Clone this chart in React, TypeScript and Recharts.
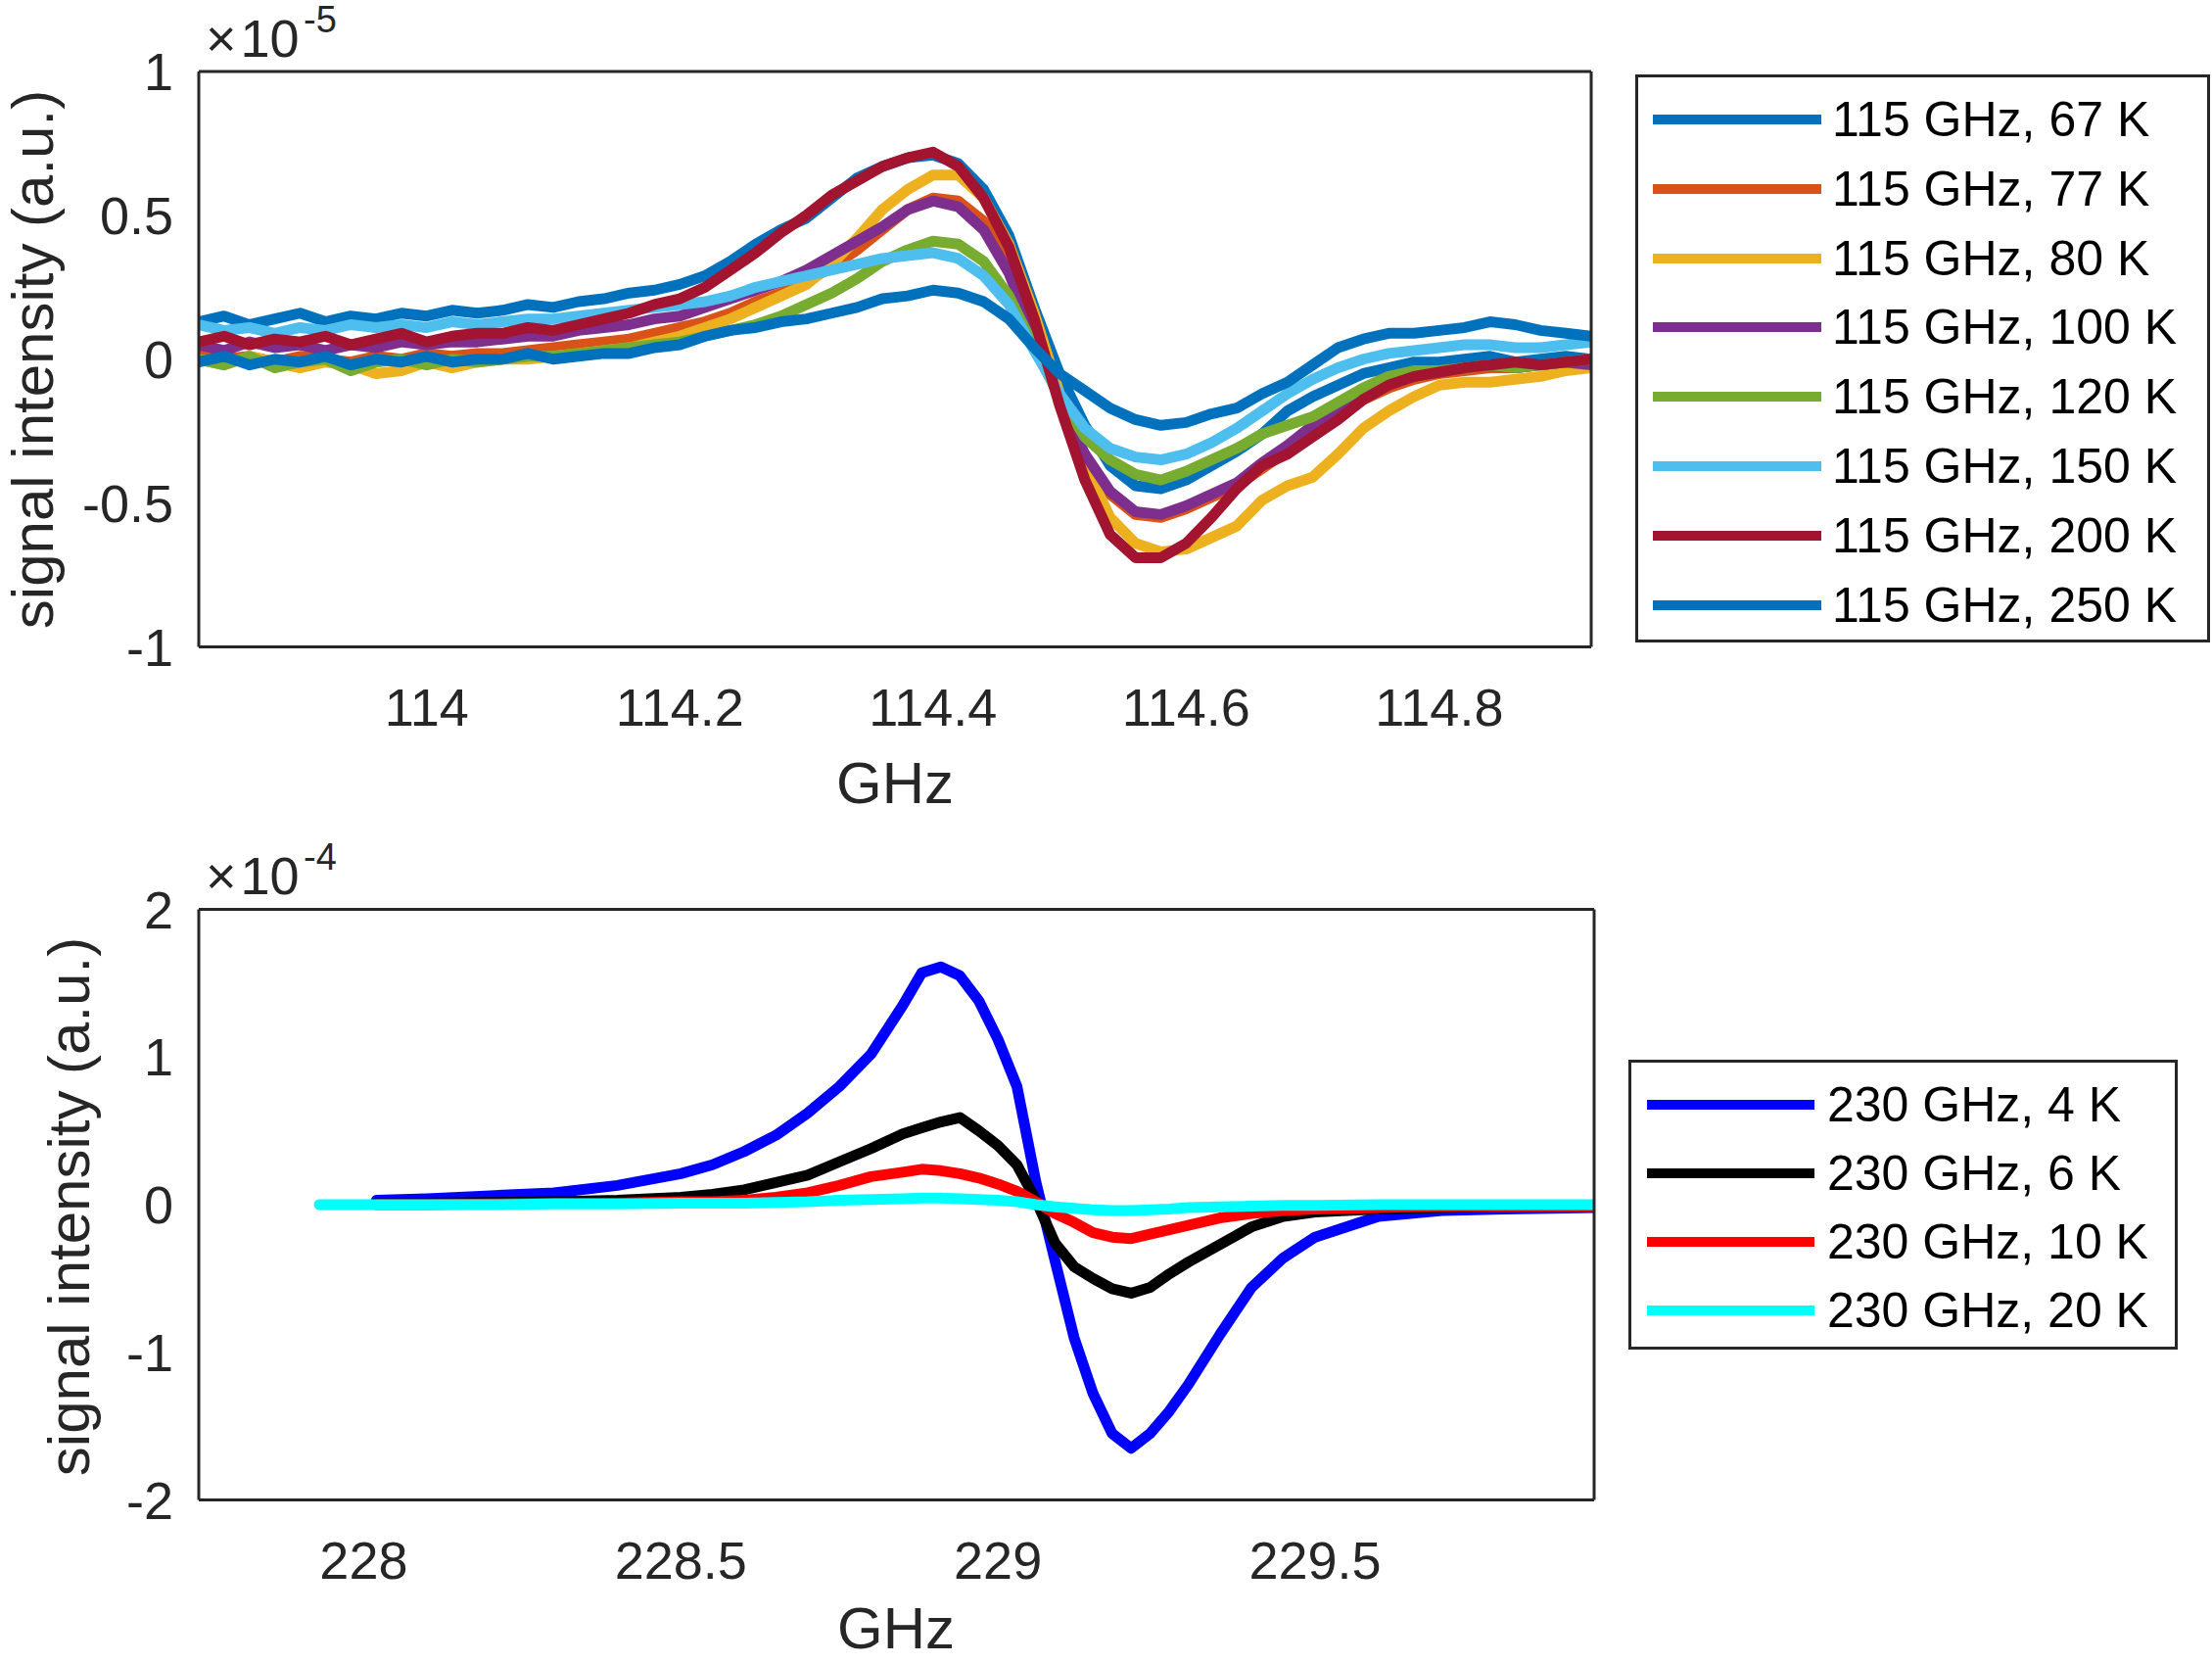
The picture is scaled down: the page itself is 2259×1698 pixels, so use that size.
import { LineChart, Line, XAxis, YAxis } from 'recharts';

const FONT = '"Liberation Sans", Arial, Helvetica, sans-serif';
const AX = '#262626';

// ---- 115 GHz panel (values in units of 1e-5) ----
const freq115 = [
  113.82, 113.84, 113.86, 113.88, 113.9, 113.92, 113.94, 113.96, 113.98, 114, 114.02, 114.04,
  114.06, 114.08, 114.1, 114.12, 114.14, 114.16, 114.18, 114.2,
  114.22, 114.24, 114.26, 114.28, 114.3, 114.32, 114.34, 114.36, 114.38, 114.4,
  114.42, 114.44, 114.46, 114.48, 114.5, 114.52, 114.54, 114.56, 114.58, 114.6,
  114.62, 114.64, 114.66, 114.68, 114.7, 114.72, 114.74, 114.76, 114.78, 114.8,
  114.82, 114.84, 114.86, 114.88, 114.9, 114.92,
];
const k67 = [
  0.13, 0.15, 0.12, 0.14, 0.16, 0.13, 0.15, 0.14, 0.16, 0.15, 0.17, 0.16,
  0.17, 0.19, 0.18, 0.2, 0.21, 0.23, 0.24, 0.26,
  0.29, 0.34, 0.4, 0.45, 0.49, 0.56, 0.63, 0.67, 0.7, 0.71,
  0.68, 0.59, 0.43, 0.18, -0.05, -0.23, -0.37, -0.44, -0.45, -0.42,
  -0.37, -0.32, -0.26, -0.18, -0.13, -0.09, -0.05, -0.03, -0.01, -0.01,
  0.0, 0.01, -0.01, 0.0, 0.01, 0.0,
];
const k77 = [
  0.02, 0.0, 0.01, -0.01, 0.01, 0.0, -0.01, 0.01, 0.0, 0.02, 0.01, 0.02,
  0.02, 0.03, 0.04, 0.05, 0.06, 0.07, 0.09, 0.11,
  0.13, 0.16, 0.2, 0.23, 0.27, 0.32, 0.38, 0.45, 0.52, 0.56,
  0.55, 0.48, 0.33, 0.11, -0.13, -0.34, -0.47, -0.54, -0.55, -0.52,
  -0.48, -0.44, -0.38, -0.32, -0.26, -0.2, -0.14, -0.1, -0.07, -0.05,
  -0.04, -0.03, -0.03, -0.02, -0.02, -0.01,
];
const k80 = [
  0.0, -0.02, 0.01, -0.01, -0.03, -0.01, -0.02, -0.05, -0.04, -0.01, -0.03, -0.01,
  0.0, 0.0, 0.01, 0.02, 0.03, 0.04, 0.06, 0.08,
  0.11, 0.14, 0.18, 0.22, 0.26, 0.33, 0.42, 0.52, 0.59, 0.64,
  0.64, 0.56, 0.4, 0.16, -0.12, -0.37, -0.55, -0.64, -0.67, -0.66,
  -0.62, -0.58, -0.49, -0.44, -0.41, -0.33, -0.24, -0.18, -0.13, -0.09,
  -0.08, -0.08, -0.07, -0.06, -0.04, -0.03,
];
const k100 = [
  0.05, 0.03, 0.06, 0.04, 0.05, 0.03, 0.05, 0.04, 0.06, 0.05, 0.06, 0.06,
  0.07, 0.08, 0.08, 0.1, 0.11, 0.12, 0.14, 0.15,
  0.18, 0.21, 0.24, 0.27, 0.31, 0.36, 0.41, 0.46, 0.52, 0.55,
  0.53, 0.45, 0.3, 0.08, -0.14, -0.33, -0.46, -0.53, -0.54, -0.51,
  -0.47, -0.43, -0.36, -0.3, -0.23, -0.17, -0.12, -0.08, -0.06, -0.04,
  -0.03, -0.02, -0.03, -0.02, -0.01, -0.02,
];
const k120 = [
  0.0, -0.02, 0.01, -0.03, -0.01, 0.0, -0.04, -0.01, 0.0, -0.02, 0.0, -0.01,
  0.0, 0.01, 0.01, 0.02, 0.03, 0.04, 0.05, 0.06,
  0.08, 0.1, 0.12, 0.15, 0.19, 0.23, 0.28, 0.34, 0.38, 0.41,
  0.4, 0.34, 0.22, 0.04, -0.13, -0.27, -0.35, -0.4, -0.42, -0.39,
  -0.35, -0.31, -0.26, -0.23, -0.2, -0.15, -0.1, -0.06, -0.04, -0.04,
  -0.03, -0.02, -0.03, -0.02, -0.01, 0.0,
];
const k150 = [
  0.12, 0.1, 0.11, 0.09, 0.11, 0.1, 0.12, 0.11, 0.12, 0.11, 0.13, 0.12,
  0.13, 0.14, 0.14, 0.15, 0.16, 0.17, 0.18, 0.19,
  0.2, 0.22, 0.25, 0.27, 0.29, 0.31, 0.33, 0.35, 0.36, 0.37,
  0.35, 0.29, 0.19, 0.03, -0.12, -0.24, -0.31, -0.34, -0.35, -0.33,
  -0.29, -0.24, -0.18, -0.12, -0.07, -0.03, 0.0, 0.02, 0.03, 0.04,
  0.05, 0.05, 0.04, 0.04, 0.05, 0.06,
];
const k200 = [
  0.06, 0.08, 0.05, 0.07, 0.06, 0.08, 0.05, 0.07, 0.09, 0.06, 0.08, 0.09,
  0.09, 0.11, 0.1, 0.12, 0.14, 0.16, 0.19, 0.21,
  0.25, 0.31, 0.37, 0.44, 0.5, 0.57, 0.62, 0.67, 0.7, 0.72,
  0.67, 0.56, 0.39, 0.14, -0.16, -0.42, -0.61, -0.69, -0.69, -0.64,
  -0.55, -0.45, -0.37, -0.33, -0.27, -0.21, -0.14, -0.09, -0.06, -0.045,
  -0.03, -0.02, -0.01, -0.02, -0.01, 0.0,
];
const k250 = [
  -0.01, 0.01, -0.02, 0.0, -0.01, 0.01, -0.02, 0.0, -0.01, 0.01, -0.01, 0.0,
  0.0, 0.02, 0.0, 0.01, 0.02, 0.02, 0.04, 0.05,
  0.08, 0.1, 0.11, 0.13, 0.14, 0.16, 0.18, 0.21, 0.22, 0.24,
  0.23, 0.2, 0.14, 0.04, -0.05, -0.11, -0.17, -0.21, -0.23, -0.22,
  -0.19, -0.17, -0.12, -0.08, -0.02, 0.04, 0.07, 0.09, 0.09, 0.1,
  0.11, 0.13, 0.12, 0.1, 0.09, 0.08,
];
const labels115 = [
  '115 GHz, 67 K', '115 GHz, 77 K', '115 GHz, 80 K', '115 GHz, 100 K',
  '115 GHz, 120 K', '115 GHz, 150 K', '115 GHz, 200 K', '115 GHz, 250 K',
];
const colors115 = ['#0072BD', '#D95319', '#EDB120', '#7E2F8E', '#77AC30', '#4DBEEE', '#A2142F', '#0072BD'];
const xTicks115 = [114, 114.2, 114.4, 114.6, 114.8];
const yTicks115 = [-1, -0.5, 0, 0.5, 1];

// ---- 230 GHz panel (values in units of 1e-4) ----
const freq230 = [
  227.93, 228.02, 228.1, 228.2, 228.3, 228.4, 228.5, 228.55, 228.6, 228.65, 228.7, 228.75,
  228.8, 228.85, 228.88, 228.91, 228.94, 228.97, 229, 229.03, 229.06, 229.09, 229.12, 229.15,
  229.18, 229.21, 229.24, 229.27, 229.3, 229.35, 229.4, 229.45, 229.5, 229.6, 229.7, 229.8, 229.94,
];
const k4 = [
  null, 0.03, 0.04, 0.06, 0.08, 0.13, 0.21, 0.27, 0.36, 0.47, 0.62, 0.8,
  1.02, 1.35, 1.57, 1.61, 1.55, 1.38, 1.12, 0.8, 0.15, -0.38, -0.9, -1.28,
  -1.55, -1.65, -1.55, -1.4, -1.22, -0.88, -0.56, -0.36, -0.22, -0.08, -0.04, -0.03, -0.02,
];
const k6 = [
  null, 0.01, 0.01, 0.015, 0.02, 0.03, 0.05, 0.07, 0.1, 0.15, 0.2, 0.29,
  0.38, 0.48, 0.52, 0.56, 0.59, 0.5, 0.4, 0.27, 0.03, -0.26, -0.42, -0.5,
  -0.57, -0.6, -0.56, -0.47, -0.39, -0.27, -0.15, -0.08, -0.05, -0.03, -0.02, -0.01, -0.01,
];
const k10 = [
  null, 0.0, 0.0, 0.005, 0.01, 0.01, 0.02, 0.02, 0.03, 0.05, 0.08, 0.13,
  0.19, 0.22, 0.24, 0.23, 0.21, 0.18, 0.14, 0.09, 0.02, -0.06, -0.12, -0.19,
  -0.22, -0.23, -0.2, -0.17, -0.14, -0.09, -0.06, -0.04, -0.03, -0.02, -0.01, -0.01, -0.01,
];
const k20 = [
  0.0, 0.0, 0.0, 0.0, 0.005, 0.005, 0.01, 0.01, 0.01, 0.015, 0.02, 0.03,
  0.035, 0.04, 0.045, 0.045, 0.04, 0.035, 0.03, 0.02, 0.0, -0.015, -0.025, -0.035,
  -0.04, -0.04, -0.035, -0.03, -0.02, -0.015, -0.01, -0.005, -0.005, 0.0, 0.0, 0.0, 0.0,
];
const labels230 = ['230 GHz, 4 K', '230 GHz, 6 K', '230 GHz, 10 K', '230 GHz, 20 K'];
const colors230 = ['#0000FF', '#000000', '#FF0000', '#00FFFF'];
const xTicks230 = [228, 228.5, 229, 229.5];
const yTicks230 = [-2, -1, 0, 1, 2];

const rows115 = freq115.map((f, i) => ({
  f, s0: k67[i], s1: k77[i], s2: k80[i], s3: k100[i], s4: k120[i], s5: k150[i], s6: k200[i], s7: k250[i],
}));
const rows230 = freq230.map((f, i) => ({ f, s0: k4[i], s1: k6[i], s2: k10[i], s3: k20[i] }));

const tickStyle = { fill: AX, fontSize: 54, fontFamily: FONT };
const boxLine = { stroke: AX, strokeWidth: 3 };

function Panel(props: any) {
  const { top, height, plotTop, plotBottom, plotRight, data, colors, xDomain, yDomain, xTicks, yTicks, lw } = props;
  const W = 1700;
  const margin = { top: plotTop, left: 103, right: W - plotRight, bottom: height - plotBottom - 100 };
  return (
    <div style={{ position: 'absolute', left: 0, top }}>
      <LineChart width={W} height={height} data={data} margin={margin}>
        <XAxis xAxisId="x" dataKey="f" type="number" domain={xDomain} allowDataOverflow ticks={xTicks}
          interval={0} axisLine={false} tickLine={false} tickSize={0} tickMargin={42} height={100} tick={tickStyle} />
        <YAxis yAxisId="y" type="number" domain={yDomain} allowDataOverflow ticks={yTicks}
          interval={0} axisLine={false} tickLine={false} tickSize={0} tickMargin={26} width={100} tick={tickStyle} />
        {colors.map((c: string, i: number) => (
          <Line key={i} xAxisId="x" yAxisId="y" dataKey={'s' + i} type="linear" stroke={c} strokeWidth={lw}
            dot={false} activeDot={false} strokeLinejoin="round" strokeLinecap="round" isAnimationActive={false} />
        ))}
        {/* box with inward ticks */}
        <XAxis xAxisId="xb" orientation="bottom" mirror type="number" domain={xDomain} allowDataOverflow ticks={xTicks}
          interval={0} tick={false} tickSize={15} axisLine={boxLine} tickLine={boxLine} />
        <XAxis xAxisId="xt" orientation="top" mirror type="number" domain={xDomain} allowDataOverflow ticks={xTicks}
          interval={0} tick={false} tickSize={15} axisLine={boxLine} tickLine={boxLine} />
        <YAxis yAxisId="yl" orientation="left" mirror type="number" domain={yDomain} allowDataOverflow ticks={yTicks}
          interval={0} tick={false} tickSize={15} axisLine={boxLine} tickLine={boxLine} />
        <YAxis yAxisId="yr" orientation="right" mirror type="number" domain={yDomain} allowDataOverflow ticks={yTicks}
          interval={0} tick={false} tickSize={15} axisLine={boxLine} tickLine={boxLine} />
      </LineChart>
    </div>
  );
}

function Legend(props: any) {
  const { left, top, width, height, labels, colors, rowTop, step, lineX0, lineX1, textX } = props;
  return (
    <div style={{ position: 'absolute', left, top, width, height, border: `3px solid ${AX}`, boxSizing: 'border-box', background: '#fff' }}>
      {labels.map((l: string, i: number) => (
        <div key={l} style={{ position: 'absolute', left: 0, top: rowTop + i * step - 25, height: 50, width: '100%' }}>
          <div style={{ position: 'absolute', left: lineX0, width: lineX1 - lineX0, top: 20, height: 10, background: colors[i] }} />
          <div style={{ position: 'absolute', left: textX, top: 0, fontSize: 50, lineHeight: '50px', color: '#000', whiteSpace: 'nowrap' }}>{l}</div>
        </div>
      ))}
    </div>
  );
}

function Exponent({ left, baseline, exp }: { left: number; baseline: number; exp: string }) {
  return (
    <>
      <div style={{ position: 'absolute', left, top: baseline - 46, fontSize: 54, lineHeight: '54px', color: AX, whiteSpace: 'nowrap' }}>
        <span>×</span>
        <span style={{ marginLeft: 4 }}>10</span>
      </div>
      <div style={{ position: 'absolute', left: left + 100, top: baseline - 25 - 32, fontSize: 38, lineHeight: '38px', color: AX, whiteSpace: 'nowrap' }}>
        {exp}
      </div>
    </>
  );
}

function Text(props: any) {
  const { cx, cy, rotate, children, size, lh } = props;
  return (
    <div style={{
      position: 'absolute', left: cx, top: cy, transform: `translate(-50%, -50%)${rotate ? ' rotate(-90deg)' : ''}`,
      fontSize: size, lineHeight: `${lh}px`, color: AX, whiteSpace: 'nowrap',
    }}>{children}</div>
  );
}

export default function App() {
  return (
    <div style={{ position: 'absolute', left: 0, top: 0, width: 2259, height: 1698, background: '#fff', overflow: 'hidden', fontFamily: FONT }}>
      <Panel top={0} height={800} plotTop={73} plotBottom={660.5} plotRight={1625} data={rows115} colors={colors115}
        xDomain={[113.82, 114.92]} yDomain={[-1, 1]} xTicks={xTicks115} yTicks={yTicks115} lw={11} />
      <Panel top={850} height={800} plotTop={78.5} plotBottom={681.5} plotRight={1628} data={rows230} colors={colors230}
        xDomain={[227.74, 229.94]} yDomain={[-2, 2]} xTicks={xTicks230} yTicks={yTicks230} lw={11} />

      <Exponent left={210} baseline={58} exp="-5" />
      <Exponent left={210} baseline={913} exp="-4" />

      <Text cx={34} cy={367} rotate size={60} lh={40}>signal intensity (a.u.)</Text>
      <Text cx={71} cy={1232} rotate size={60} lh={40}>signal intensity (a.u.)</Text>
      <Text cx={914} cy={800} size={60} lh={44}>GHz</Text>
      <Text cx={915} cy={1663} size={60} lh={44}>GHz</Text>

      <Legend left={1670} top={76} width={587} height={580} labels={labels115} colors={colors115}
        rowTop={43} step={70.8} lineX0={15} lineX1={187} textX={198} />
      <Legend left={1663} top={1082} width={561} height={296} labels={labels230} colors={colors230}
        rowTop={43} step={70} lineX0={16} lineX1={187} textX={200} />
    </div>
  );
}
